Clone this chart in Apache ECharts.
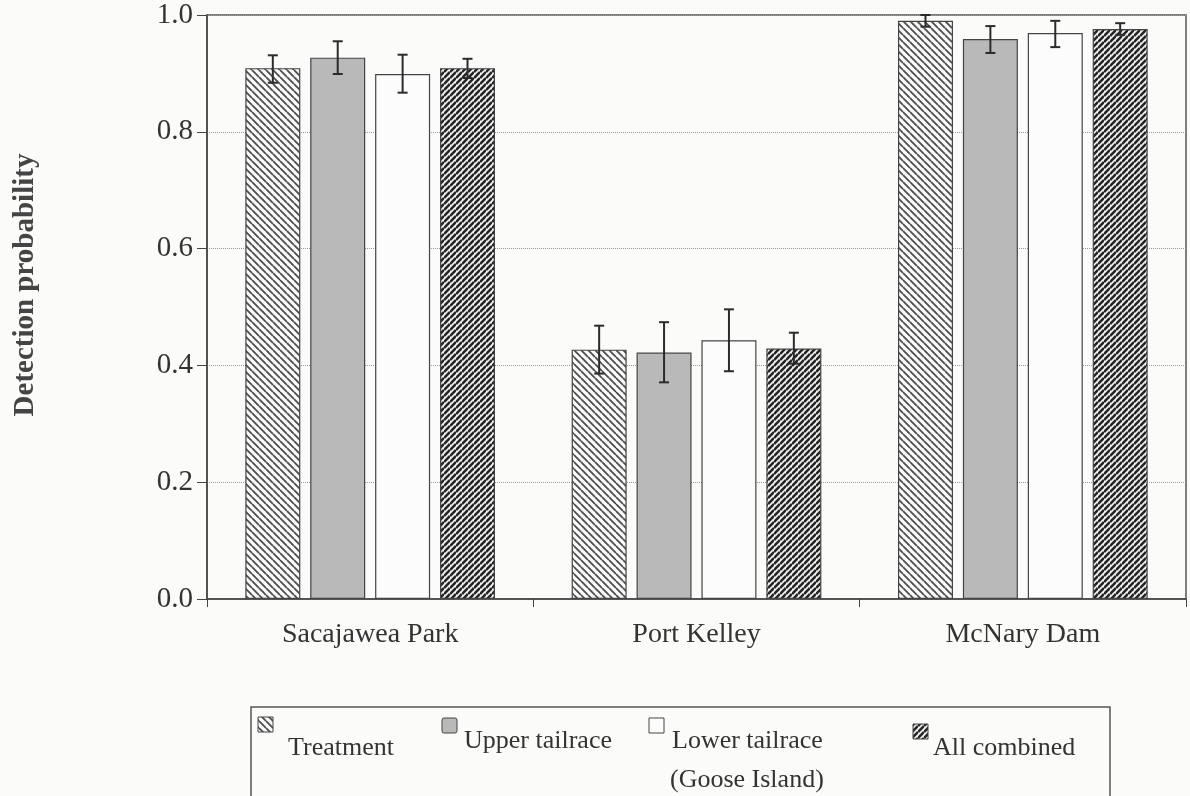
<!DOCTYPE html>
<html>
<head>
<meta charset="utf-8">
<script src="https://cdn.jsdelivr.net/npm/echarts@6/dist/echarts.min.js"></script>
<style>
  html, body { margin: 0; padding: 0; background: #fbfbf9; }
  #chart { width: 1190px; height: 796px; }
</style>
</head>
<body>
<div id="chart"></div>
<script>
// 数据
const categories = ['Sacajawea Park', 'Port Kelley', 'McNary Dam'];
const seriesNames = ['Treatment', 'Upper tailrace', 'Lower tailrace', 'All combined'];
const yTicks = [0, 0.2, 0.4, 0.6, 0.8, 1.0];

const treatment = [0.909, 0.427, 0.990];
const treatmentLow = [0.884, 0.386, 0.980];
const treatmentHigh = [0.931, 0.468, 1.000];

const upperTailrace = [0.927, 0.422, 0.959];
const upperLow = [0.899, 0.371, 0.935];
const upperHigh = [0.955, 0.474, 0.981];

const lowerTailrace = [0.899, 0.443, 0.969];
const lowerLow = [0.867, 0.390, 0.945];
const lowerHigh = [0.932, 0.496, 0.990];

const allCombined = [0.909, 0.429, 0.976];
const allLow = [0.892, 0.403, 0.966];
const allHigh = [0.925, 0.456, 0.986];

const FONT = '"Liberation Serif", "Times New Roman", serif';
const BAR_W = 55;
const GAP = 0.18;

// 斜线填充
function stripes(size, dir, lineColor, lineWidth, bg) {
  const c = document.createElement('canvas');
  c.width = c.height = size;
  const ctx = c.getContext('2d');
  ctx.fillStyle = bg;
  ctx.fillRect(0, 0, size, size);
  ctx.strokeStyle = lineColor;
  ctx.lineWidth = lineWidth;
  ctx.beginPath();
  for (let k = -1; k <= 1; k++) {
    if (dir === 'back') {
      ctx.moveTo(0, k * size);
      ctx.lineTo(size, k * size + size);
    } else {
      ctx.moveTo(0, (k + 1) * size);
      ctx.lineTo(size, k * size);
    }
  }
  ctx.stroke();
  return { image: c, repeat: 'repeat' };
}

const fills = [
  stripes(7, 'back', '#4d4d4d', 1.8, '#fafafa'),
  '#b9b9b9',
  '#fcfcfc',
  stripes(6, 'fwd', '#262626', 2.6, '#f2f2f2')
];

const values = [treatment, upperTailrace, lowerTailrace, allCombined];
const lows = [treatmentLow, upperLow, lowerLow, allLow];
const highs = [treatmentHigh, upperHigh, lowerHigh, allHigh];

const chart = echarts.init(document.getElementById('chart'));

const barSeries = values.map((vals, s) => ({
  name: seriesNames[s],
  type: 'bar',
  data: vals,
  barWidth: BAR_W,
  barGap: GAP * 100 + '%',
  itemStyle: {
    color: fills[s],
    borderColor: '#444',
    borderWidth: 1.2
  },
  z: 2
}));

// 误差线
const errSeries = values.map((vals, s) => ({
  type: 'custom',
  name: seriesNames[s] + ' error',
  clip: false,
  z: 5,
  encode: { x: 0, y: [1, 2] },
  data: categories.map((c, i) => [i, lows[s][i], highs[s][i]]),
  renderItem(params, api) {
    const idx = api.value(0);
    const lo = api.coord([idx, api.value(1)]);
    const hi = api.coord([idx, api.value(2)]);
    const step = BAR_W * (1 + GAP);
    const x = lo[0] + (s - 1.5) * step;
    const cap = 5;
    const style = { stroke: '#2b2b2b', lineWidth: 2 };
    return {
      type: 'group',
      children: [
        { type: 'line', shape: { x1: x, y1: hi[1], x2: x, y2: lo[1] }, style },
        { type: 'line', shape: { x1: x - cap, y1: hi[1], x2: x + cap, y2: hi[1] }, style },
        { type: 'line', shape: { x1: x - cap, y1: lo[1], x2: x + cap, y2: lo[1] }, style }
      ]
    };
  }
}));

// 图例（手动摆放）
const legendFont = '26px ' + FONT;
const legendItems = [
  { icon: [258, 717], text: [seriesNames[0]], tx: 288, ty: 748 },
  { icon: [442, 718], text: [seriesNames[1]], tx: 464, ty: 741 },
  { icon: [649, 718], text: [seriesNames[2], '(Goose Island)'], tx: 672, ty: 741 },
  { icon: [913, 724], text: [seriesNames[3]], tx: 933, ty: 748 }
];
const graphic = [{
  type: 'rect',
  shape: { x: 251, y: 707, width: 859, height: 120 },
  style: { fill: 'none', stroke: '#555', lineWidth: 1.5 }
}];
legendItems.forEach((it, s) => {
  graphic.push({
    type: 'rect',
    shape: { x: it.icon[0], y: it.icon[1], width: 15, height: 15, r: s === 1 ? 2 : 0 },
    style: { fill: fills[s], stroke: '#444', lineWidth: 1 }
  });
  it.text.forEach((t, j) => {
    graphic.push({
      type: 'text',
      x: it.tx - (j ? 2 : 0),
      y: it.ty + j * 39,
      style: { text: t, font: legendFont, fill: '#333', verticalAlign: 'middle' }
    });
  });
});

chart.setOption({
  backgroundColor: '#fbfbf9',
  animation: false,
  grid: {
    left: 207,
    right: 4,
    top: 15,
    bottom: 197,
    show: true,
    borderColor: '#555',
    borderWidth: 1.5
  },
  xAxis: {
    type: 'category',
    data: categories,
    axisLine: { lineStyle: { color: '#444', width: 1.5 } },
    axisTick: { show: true, length: 8, lineStyle: { color: '#444' } },
    axisLabel: {
      margin: 22,
      color: '#333',
      fontFamily: FONT,
      fontSize: 28
    }
  },
  yAxis: {
    type: 'value',
    min: yTicks[0],
    max: yTicks[yTicks.length - 1],
    interval: 0.2,
    name: 'Detection probability',
    nameLocation: 'middle',
    nameRotate: 90,
    nameGap: 167,
    nameTextStyle: {
      fontFamily: FONT,
      fontSize: 29,
      fontWeight: 'bold',
      color: '#444',
      padding: [0, 0, 0, 44]
    },
    axisLine: { show: true, lineStyle: { color: '#444', width: 1.5 } },
    axisTick: { show: true, length: 10, lineStyle: { color: '#444' } },
    axisLabel: {
      margin: 14,
      color: '#333',
      fontFamily: FONT,
      fontSize: 29,
      formatter: v => v.toFixed(1)
    },
    splitLine: {
      show: true,
      lineStyle: { color: '#9a9a9a', type: 'dotted', width: 1 }
    }
  },
  tooltip: { show: false },
  graphic,
  series: barSeries.concat(errSeries)
});
</script>
</body>
</html>
